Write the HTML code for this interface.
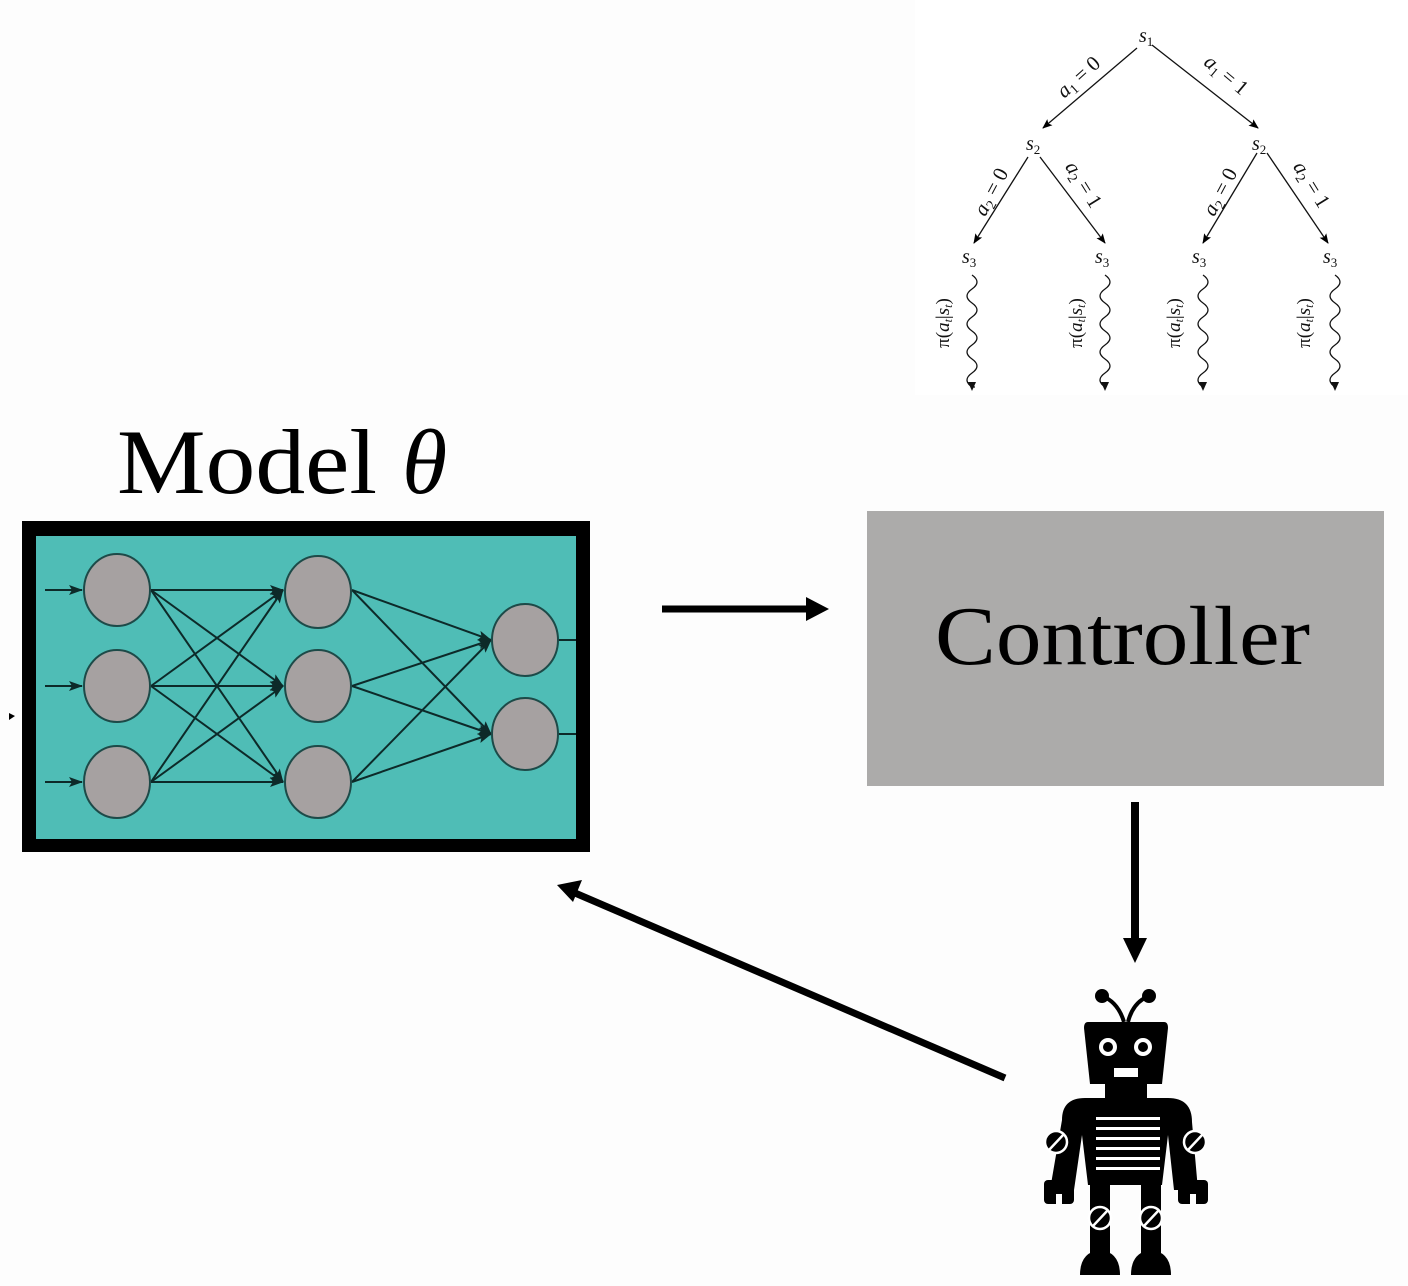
<!DOCTYPE html>
<html><head><meta charset="utf-8"><style>
html,body{margin:0;padding:0;background:#fdfdfd;}
svg{display:block;}
</style></head><body>
<svg width="1408" height="1286" viewBox="0 0 1408 1286" xmlns="http://www.w3.org/2000/svg">
<defs>
<marker id="ah" markerWidth="10" markerHeight="8" refX="9" refY="4" orient="auto" markerUnits="userSpaceOnUse">
<path d="M0,0 L10,4 L0,8 L2,4 Z" fill="#000"/>
</marker>
<marker id="nh" markerWidth="14" markerHeight="10" refX="13" refY="5" orient="auto" markerUnits="userSpaceOnUse">
<path d="M0,0 L14,5 L0,10 L3,5 Z" fill="#0d2a29"/>
</marker>
</defs>
<rect width="1408" height="1286" fill="#fdfdfd"/>
<rect x="915" y="0" width="493" height="395" fill="#ffffff"/>

<!-- Tree -->
<g font-family="Liberation Serif, serif" font-style="italic" fill="#111">
<text x="1139" y="42" font-size="20">s<tspan font-size="13" dy="4" font-style="normal">1</tspan></text>
<text x="1026" y="150" font-size="20">s<tspan font-size="13" dy="4" font-style="normal">2</tspan></text>
<text x="1252" y="150" font-size="20">s<tspan font-size="13" dy="4" font-style="normal">2</tspan></text>
<text x="962" y="263" font-size="20">s<tspan font-size="13" dy="4" font-style="normal">3</tspan></text>
<text x="1095" y="263" font-size="20">s<tspan font-size="13" dy="4" font-style="normal">3</tspan></text>
<text x="1192" y="263" font-size="20">s<tspan font-size="13" dy="4" font-style="normal">3</tspan></text>
<text x="1323" y="263" font-size="20">s<tspan font-size="13" dy="4" font-style="normal">3</tspan></text>
</g>
<g stroke="#111" stroke-width="1.3" marker-end="url(#ah)">
<line x1="1137" y1="48" x2="1043" y2="128"/>
<line x1="1152" y1="45" x2="1258" y2="128"/>
<line x1="1028" y1="157" x2="974" y2="243"/>
<line x1="1040" y1="157" x2="1105" y2="243"/>
<line x1="1257" y1="153" x2="1203" y2="243"/>
<line x1="1267" y1="153" x2="1328" y2="243"/>
</g>
<g font-family="Liberation Serif, serif" font-size="21" fill="#111" text-anchor="middle">
<text transform="translate(1083,82) rotate(-42)"><tspan font-style="italic">a</tspan><tspan font-size="14" dy="4">1</tspan><tspan dy="-4"> = 0</tspan></text>
<text transform="translate(1222,80) rotate(40)"><tspan font-style="italic">a</tspan><tspan font-size="14" dy="4">1</tspan><tspan dy="-4"> = 1</tspan></text>
<text transform="translate(997,195) rotate(-62)"><tspan font-style="italic">a</tspan><tspan font-size="14" dy="4">2</tspan><tspan dy="-4"> = 0</tspan></text>
<text transform="translate(1078,188) rotate(58)"><tspan font-style="italic">a</tspan><tspan font-size="14" dy="4">2</tspan><tspan dy="-4"> = 1</tspan></text>
<text transform="translate(1226,195) rotate(-62)"><tspan font-style="italic">a</tspan><tspan font-size="14" dy="4">2</tspan><tspan dy="-4"> = 0</tspan></text>
<text transform="translate(1306,188) rotate(58)"><tspan font-style="italic">a</tspan><tspan font-size="14" dy="4">2</tspan><tspan dy="-4"> = 1</tspan></text>
</g>
<g fill="none" stroke="#111" stroke-width="1.3">
<path d="M972,275 q10,7 0,14 t0,14 t0,14 t0,14 t0,14 t0,14 t0,14 t0,14 l3,0 l0,0"/>
<path d="M1105,275 q10,7 0,14 t0,14 t0,14 t0,14 t0,14 t0,14 t0,14 t0,14 l0,1"/>
<path d="M1203,275 q10,7 0,14 t0,14 t0,14 t0,14 t0,14 t0,14 t0,14 t0,14 l0,1"/>
<path d="M1335,275 q10,7 0,14 t0,14 t0,14 t0,14 t0,14 t0,14 t0,14 t0,14 l0,1"/>
</g>
<g fill="#111">
<polygon points="968,382 976,382 972,391"/>
<polygon points="1101,382 1109,382 1105,391"/>
<polygon points="1199,382 1207,382 1203,391"/>
<polygon points="1331,382 1339,382 1335,391"/>
</g>
<g font-family="Liberation Serif, serif" font-size="19" fill="#111" text-anchor="middle">
<text transform="translate(949,323) rotate(-90)">π(<tspan font-style="italic">a</tspan><tspan font-size="12" dy="3" font-style="italic">t</tspan><tspan dy="-3">|</tspan><tspan font-style="italic">s</tspan><tspan font-size="12" dy="3" font-style="italic">t</tspan><tspan dy="-3">)</tspan></text>
<text transform="translate(1082,323) rotate(-90)">π(<tspan font-style="italic">a</tspan><tspan font-size="12" dy="3" font-style="italic">t</tspan><tspan dy="-3">|</tspan><tspan font-style="italic">s</tspan><tspan font-size="12" dy="3" font-style="italic">t</tspan><tspan dy="-3">)</tspan></text>
<text transform="translate(1180,323) rotate(-90)">π(<tspan font-style="italic">a</tspan><tspan font-size="12" dy="3" font-style="italic">t</tspan><tspan dy="-3">|</tspan><tspan font-style="italic">s</tspan><tspan font-size="12" dy="3" font-style="italic">t</tspan><tspan dy="-3">)</tspan></text>
<text transform="translate(1310,323) rotate(-90)">π(<tspan font-style="italic">a</tspan><tspan font-size="12" dy="3" font-style="italic">t</tspan><tspan dy="-3">|</tspan><tspan font-style="italic">s</tspan><tspan font-size="12" dy="3" font-style="italic">t</tspan><tspan dy="-3">)</tspan></text>
</g>

<!-- Model title -->
<text x="117" y="493" font-family="Liberation Serif, serif" font-size="92" fill="#000" textLength="260" lengthAdjust="spacingAndGlyphs">Model</text>
<text x="402" y="493" font-family="Liberation Serif, serif" font-style="italic" font-size="92" fill="#000">θ</text>

<!-- Model box -->
<rect x="22" y="521" width="568" height="331" fill="#000"/>
<rect x="36" y="536" width="540" height="303" fill="#4fbdb6"/>
<polygon points="9,713 15,716 9,720" fill="#000"/>
<g stroke="#0d2a29" stroke-width="2" fill="none" marker-end="url(#nh)">
<line x1="45" y1="590" x2="82" y2="590"/>
<line x1="45" y1="686" x2="82" y2="686"/>
<line x1="45" y1="782" x2="82" y2="782"/>
<line x1="151" y1="590" x2="283" y2="590"/>
<line x1="151" y1="590" x2="283" y2="686"/>
<line x1="151" y1="590" x2="283" y2="782"/>
<line x1="151" y1="686" x2="283" y2="590"/>
<line x1="151" y1="686" x2="283" y2="686"/>
<line x1="151" y1="686" x2="283" y2="782"/>
<line x1="151" y1="782" x2="283" y2="590"/>
<line x1="151" y1="782" x2="283" y2="686"/>
<line x1="151" y1="782" x2="283" y2="782"/>
<line x1="352" y1="590" x2="491" y2="640"/>
<line x1="352" y1="590" x2="491" y2="734"/>
<line x1="352" y1="686" x2="491" y2="640"/>
<line x1="352" y1="686" x2="491" y2="734"/>
<line x1="352" y1="782" x2="491" y2="640"/>
<line x1="352" y1="782" x2="491" y2="734"/>
</g>
<g stroke="#0d2a29" stroke-width="2">
<line x1="558" y1="640" x2="576" y2="640"/>
<line x1="558" y1="734" x2="576" y2="734"/>
</g>
<g fill="#a6a1a1" stroke="#1d4a48" stroke-width="2">
<ellipse cx="117" cy="590" rx="33" ry="36"/>
<ellipse cx="117" cy="686" rx="33" ry="36"/>
<ellipse cx="117" cy="782" rx="33" ry="36"/>
<ellipse cx="318" cy="592" rx="33" ry="36"/>
<ellipse cx="318" cy="686" rx="33" ry="36"/>
<ellipse cx="318" cy="782" rx="33" ry="36"/>
<ellipse cx="525" cy="640" rx="33" ry="36"/>
<ellipse cx="525" cy="734" rx="33" ry="36"/>
</g>

<!-- Arrows -->
<line x1="662" y1="609" x2="810" y2="609" stroke="#000" stroke-width="7"/>
<polygon points="806,597 829,609 806,621" fill="#000"/>
<line x1="1135" y1="802" x2="1135" y2="942" stroke="#000" stroke-width="8"/>
<polygon points="1123,938 1147,938 1135,963" fill="#000"/>
<line x1="1005" y1="1078" x2="575" y2="893" stroke="#000" stroke-width="7"/>
<polygon points="557,885 582,880 573,902" fill="#000"/>

<!-- Controller -->
<rect x="867" y="511" width="517" height="275" fill="#acabaa"/>
<text x="935" y="664" font-family="Liberation Serif, serif" font-size="84" fill="#000" textLength="375" lengthAdjust="spacingAndGlyphs">Controller</text>

<!-- Robot -->
<g fill="#000">
<circle cx="1102" cy="996" r="7"/>
<circle cx="1149" cy="996" r="7"/>
<path d="M1102,996 Q1118,1002 1124,1022" stroke="#000" stroke-width="4" fill="none"/>
<path d="M1149,996 Q1133,1002 1128,1022" stroke="#000" stroke-width="4" fill="none"/>
<path d="M1088,1022 L1164,1022 Q1168,1022 1168,1028 L1162,1084 L1090,1084 L1084,1028 Q1084,1022 1088,1022 Z"/>
<rect x="1105" y="1082" width="42" height="20"/>
<path d="M1062,1120 Q1062,1098 1085,1098 L1168,1098 Q1192,1098 1192,1122 L1198,1190 L1174,1190 L1168,1135 L1162,1185 L1088,1185 L1082,1135 L1074,1190 L1050,1190 Z"/>
<rect x="1044" y="1180" width="30" height="24" rx="4"/>
<rect x="1178" y="1180" width="30" height="24" rx="4"/>
<rect x="1090" y="1183" width="20" height="70"/>
<rect x="1141" y="1183" width="20" height="70"/>
<path d="M1080,1275 Q1080,1252 1100,1250 Q1120,1252 1120,1275 Z"/>
<path d="M1131,1275 Q1131,1252 1151,1250 Q1171,1252 1171,1275 Z"/>
</g>
<g fill="#fdfdfd">
<rect x="1056" y="1194" width="6" height="10"/>
<rect x="1190" y="1194" width="6" height="10"/>
</g>
<g fill="#fff">
<circle cx="1108" cy="1047" r="9"/>
<circle cx="1143" cy="1047" r="9"/>
<rect x="1114" y="1068" width="24" height="9"/>
<rect x="1096" y="1117" width="64" height="3"/>
<rect x="1096" y="1127" width="64" height="3"/>
<rect x="1096" y="1137" width="64" height="3"/>
<rect x="1096" y="1147" width="64" height="3"/>
<rect x="1096" y="1157" width="64" height="3"/>
<rect x="1096" y="1167" width="64" height="3"/>
</g>
<g fill="#000">
<circle cx="1108" cy="1047" r="5"/>
<circle cx="1143" cy="1047" r="5"/>
</g>
<g fill="#000" stroke="#fff" stroke-width="2.5">
<circle cx="1056" cy="1142" r="11"/>
<circle cx="1195" cy="1142" r="11"/>
<circle cx="1100" cy="1218" r="11"/>
<circle cx="1151" cy="1218" r="11"/>
</g>
<g stroke="#fff" stroke-width="2.5">
<line x1="1049" y1="1150" x2="1064" y2="1134"/>
<line x1="1188" y1="1150" x2="1203" y2="1134"/>
<line x1="1093" y1="1226" x2="1108" y2="1210"/>
<line x1="1144" y1="1226" x2="1159" y2="1210"/>
</g>
</svg>
</body></html>
